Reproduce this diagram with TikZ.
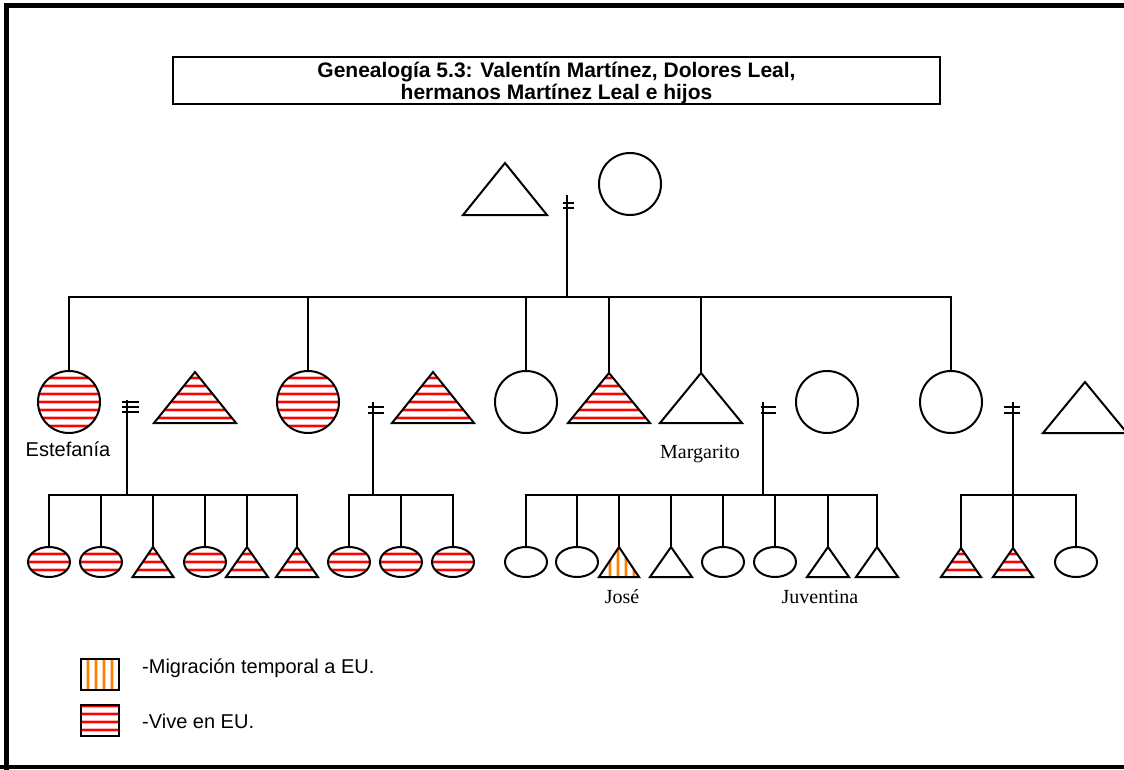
\documentclass[tikz,border=0pt]{standalone}
\usepackage{fontspec}
\setmainfont{Liberation Serif}
\newfontfamily\arialfont{Liberation Sans}
\usetikzlibrary{shapes.geometric,calc}

\tikzset{
  outline/.style={draw=black, line width=2pt, line join=miter},
  link/.style={draw=black, line width=1.8pt},
  bigcirc/.style={outline, circle, minimum size=62pt, inner sep=0pt},
  kidoval/.style={outline, ellipse, minimum width=42pt, minimum height=30pt, inner sep=0pt},
  redhalo/.style={draw=red!30, line width=4pt},
  redline/.style={draw=red, line width=2pt},
  orangehalo/.style={draw=orange!35, line width=3.5pt},
  orangeline/.style={draw=orange, line width=1.8pt},
  % horizontal red hatching: lives in the US
  liveseu/.style={path picture={\pgftransformreset
      \foreach \s in {26,34,...,770} {\draw[redhalo] (0,\s) -- (1124,\s);
                                      \draw[redline] (0,\s) -- (1124,\s);}}},
  % vertical orange hatching: temporary migration to the US
  tempeu/.style={path picture={\pgftransformreset
      \foreach \s in {88,96,104,112,610,618,626,634} {\draw[orangehalo] (\s,0) -- (\s,769);
                                                      \draw[orangeline] (\s,0) -- (\s,769);}}},
  namelabel/.style={font=\fontsize{20}{24}\selectfont, anchor=base, inner sep=0pt},
  sanslabel/.style={font=\arialfont\fontsize{20}{24}\selectfont, anchor=base, inner sep=0pt},
}

% triangle (male) with its apex stored as a named coordinate
% #1 options, #2 name, #3 apex, #4 half base, #5 height
\newcommand\maletri[5][]{%
  \coordinate (#2) at (#3);
  \draw[outline,#1] (#2) -- ++(#4,#5) -- ++(-2*#4,0) -- cycle;}

\begin{document}
\begin{tikzpicture}[x=1pt,y=-1pt]
\useasboundingbox (0,0) rectangle (1124,769);
\clip (0,0) rectangle (1124,769);

% page frame
\draw[line width=5pt] (6,775) -- (6,5) -- (1130,5);
\draw[line width=4pt] (0,767) -- (1130,767);

% title
\node[draw, line width=1.6pt, minimum width=767pt, minimum height=47pt,
      inner sep=0pt, align=center] (title) at (556.5,80.5) {};
\node[align=center, inner sep=0pt,
      font=\arialfont\bfseries\fontsize{21}{22}\selectfont] (titletext) at (556.5,83)
  {Genealogía 5.3: Valentín Martínez, Dolores Leal,\\hermanos Martínez Leal e hijos};

% ---- first generation ----
\maletri{p0}{505,163}{42}{52}
\node[bigcirc] (m0) at (630,184) {};
\coordinate (u0) at (567,195);
\coordinate (s0) at (567,297);
\draw[link] (u0) -- (s0);
\draw[link] ($(u0)+(-4,8)$) -- ++(11,0) ($(u0)+(-4,13)$) -- ++(11,0);

% ---- second generation ----
\node[bigcirc, liveseu] (g1) at (69,402) {};
\maletri[liveseu]{g2}{195,372}{41}{51}
\node[bigcirc, liveseu] (g3) at (308,402) {};
\maletri[liveseu]{g4}{433,372}{41}{51}
\node[bigcirc] (g5) at (526,402) {};
\maletri[liveseu]{g6}{609,373}{41}{50}
\maletri{g7}{701,373}{41}{50}
\node[bigcirc] (g8) at (827,402) {};
\node[bigcirc] (g9) at (951,402) {};
\maletri{g10}{1085,382}{42}{51}

\draw[link] (g1.north) |- (s0) -| (g9.north);
\draw[link] (g3.north) -- (g3.north |- s0);
\draw[link] (g5.north) -- (g5.north |- s0);
\draw[link] (g6) -- (g6 |- s0);
\draw[link] (g7) -- (g7 |- s0);

\node[sanslabel] (lestefania) at (68,456) {Estefanía};
\node[namelabel] (lmargarito) at (700,458) {Margarito};

% marriages of the second generation
\coordinate (uA) at (127,400);  \coordinate (sA) at (127,495);
\coordinate (uB) at (373,402);  \coordinate (sB) at (373,495);
\coordinate (uC) at (763,402);  \coordinate (sC) at (763,495);
\coordinate (uD) at (1013,402); \coordinate (sD) at (1013,495);
\foreach \u/\s in {uA/sA,uB/sB,uC/sC,uD/sD} \draw[link] (\u) -- (\s);
\draw[link] ($(uA)+(-5,2)$) -- ++(17,0) ($(uA)+(-5,7)$) -- ++(17,0)
            ($(uA)+(-5,12)$) -- ++(17,0);
\draw[link] ($(uB)+(-5,5)$) -- ++(16,0) ($(uB)+(-5,11)$) -- ++(16,0);
\draw[link] ($(uC)+(-2,5)$) -- ++(15,0) ($(uC)+(-2,11)$) -- ++(15,0);
\draw[link] ($(uD)+(-9,5)$) -- ++(16,0) ($(uD)+(-9,11)$) -- ++(16,0);

% ---- third generation ----
% children of Estefania
\node[kidoval, liveseu] (a1) at (49,562) {};
\node[kidoval, liveseu] (a2) at (101,562) {};
\maletri[liveseu]{a3}{153,547}{20.5}{30}
\node[kidoval, liveseu] (a4) at (205,562) {};
\maletri[liveseu]{a5}{247,547}{21}{30}
\maletri[liveseu]{a6}{297,547}{21}{30}
\draw[link] (a1.north) |- (sA) -| (a6);
\draw[link] (a2.north) -- (a2.north |- sA);
\draw[link] (a3) -- (a3 |- sA);
\draw[link] (a4.north) -- (a4.north |- sA);
\draw[link] (a5) -- (a5 |- sA);

% second family
\node[kidoval, liveseu] (b1) at (349,562) {};
\node[kidoval, liveseu] (b2) at (401,562) {};
\node[kidoval, liveseu] (b3) at (453,562) {};
\draw[link] (b1.north) |- (sB) -| (b3.north);
\draw[link] (b2.north) -- (b2.north |- sB);

% children of Margarito
\node[kidoval] (c1) at (526,562) {};
\node[kidoval] (c2) at (577,562) {};
\maletri[tempeu]{c3}{619,547}{20}{30}
\maletri{c4}{671,547}{21}{30}
\node[kidoval] (c5) at (723,562) {};
\node[kidoval] (c6) at (775,562) {};
\maletri{c7}{828,547}{21}{30}
\maletri{c8}{877,547}{21}{30}
\draw[link] (c1.north) |- (sC) -| (c8);
\draw[link] (c2.north) -- (c2.north |- sC);
\draw[link] (c3) -- (c3 |- sC);
\draw[link] (c4) -- (c4 |- sC);
\draw[link] (c5.north) -- (c5.north |- sC);
\draw[link] (c6.north) -- (c6.north |- sC);
\draw[link] (c7) -- (c7 |- sC);
\node[namelabel] (ljose) at (622,603) {José};
\node[namelabel] (ljuventina) at (820,603) {Juventina};

% last family
\maletri[liveseu]{d1}{961,548}{20}{29}
\maletri[liveseu]{d2}{1013,548}{20}{29}
\node[kidoval] (d3) at (1076,562) {};
\draw[link] (d1) |- (sD) -| (d3.north);
\draw[link] (d2) -- (sD);

% ---- legend ----
\node[draw, line width=1.8pt, minimum width=38pt, minimum height=31pt, inner sep=0pt,
      tempeu] (keytemp) at (100,674.5) {};
\node[draw, line width=1.8pt, minimum width=38pt, minimum height=31pt, inner sep=0pt,
      liveseu] (keylive) at (100,720.5) {};
\node[sanslabel, anchor=base west] (ltemp) at (142,673) {-Migración temporal a EU.};
\node[sanslabel, anchor=base west] (llive) at (142,728) {-Vive en EU.};
\end{tikzpicture}
\end{document}
